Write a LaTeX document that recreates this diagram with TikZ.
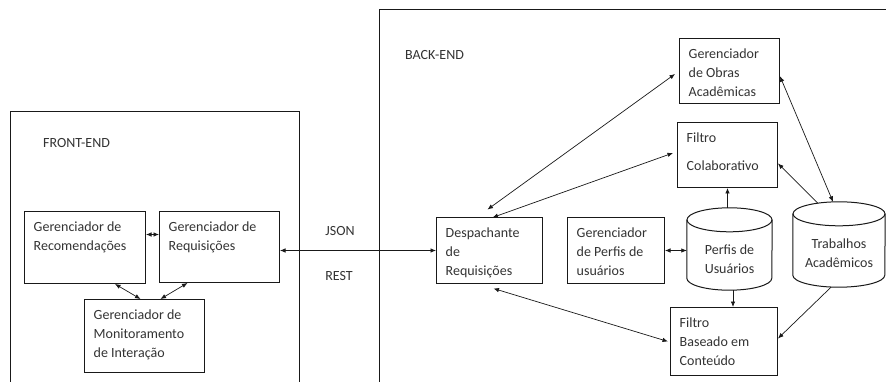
\documentclass[tikz,border=0pt]{standalone}
\usepackage{fontspec}
\setmainfont{Carlito}
\usetikzlibrary{arrows.meta}
\definecolor{ink}{HTML}{333333}
\begin{document}
\begin{tikzpicture}[x=1pt,y=-1pt,
  font=\fontsize{14}{19}\selectfont,
  >={Latex[length=5.5pt,width=4.5pt]},
  box/.style={draw=black!90, line width=1pt, anchor=north west, inner sep=0pt},
  frm/.style={draw=black!90, line width=0.8pt, anchor=north west, inner sep=0pt},
  txt/.style={text=ink, align=left, inner sep=0pt, anchor=north west, xshift=9.5pt, yshift=-10.5pt},
  lbl/.style={text=ink, inner sep=0pt},
  arr/.style={->, line width=0.7pt, draw=black!90},
  darr/.style={<->, line width=0.7pt, draw=black!90},
  cyl/.style={draw=black!90, line width=1pt}
]
\useasboundingbox (0,0) rectangle (886,382);
\fill[white] (0,0) rectangle (886,382);
\clip (0,0) rectangle (886,382);

% frames
\node[frm, minimum width=289.5pt, minimum height=330pt,
  label={[lbl, anchor=west, xshift=33.5pt, yshift=-32pt]north west:FRONT-END}] (fe) at (9.5,111) {};
\node[frm, minimum width=600pt, minimum height=420pt,
  label={[lbl, anchor=west, xshift=26pt, yshift=-46pt]north west:BACK-END}] (be) at (379,9) {};

% front-end boxes
\node[box, minimum width=121pt, minimum height=72pt,
  label={[txt]north west:Gerenciador de\\Recomendações}] (rec) at (24,211) {};
\node[box, minimum width=120pt, minimum height=71pt,
  label={[txt]north west:Gerenciador de\\Requisições}] (req) at (159,211) {};
\node[box, minimum width=120pt, minimum height=73pt,
  label={[txt]north west:Gerenciador de\\Monitoramento\\de Interação}] (mon) at (84,299) {};

% back-end boxes
\node[box, minimum width=106pt, minimum height=65pt,
  label={[txt]north west:Despachante\\de\\Requisições}] (desp) at (436,217.5) {};
\node[box, minimum width=97pt, minimum height=65pt,
  label={[txt]north west:Gerenciador\\de Perfis de\\usuários}] (gp) at (567,217.5) {};
\node[box, minimum width=100pt, minimum height=64.5pt,
  label={[txt]north west:Gerenciador\\de Obras\\Acadêmicas}] (obras) at (679,38.5) {};
\node[box, minimum width=100pt, minimum height=65pt,
  label={[txt]north west:Filtro\\[9pt]Colaborativo}] (colab) at (677,122) {};
\node[box, minimum width=107pt, minimum height=68pt,
  label={[txt]north west:Filtro\\Baseado em\\Conteúdo}] (fb) at (670,307) {};

% cylinders
\node[inner sep=0pt, minimum width=85pt, minimum height=82pt,
  label={[lbl, align=center, anchor=center, yshift=31.5pt]south:Perfis de\\Usuários}] (perf) at (729.5,249) {};
\draw[cyl] ([yshift=-12pt]perf.north west) -- ([yshift=12pt]perf.south west)
  arc[start angle=180, end angle=360, x radius=42.5pt, y radius=12pt]
  -- ([yshift=-12pt]perf.north east);
\draw[cyl] ([yshift=-12pt]perf.north) ellipse [x radius=42.5pt, y radius=12pt];

\node[inner sep=0pt, minimum width=92pt, minimum height=85pt,
  label={[lbl, align=center, anchor=center, yshift=34.5pt]south:Trabalhos\\Acadêmicos}] (trab) at (839,244.5) {};
\draw[cyl] ([yshift=-12pt]trab.north west) -- ([yshift=12pt]trab.south west)
  arc[start angle=180, end angle=360, x radius=46pt, y radius=12pt]
  -- ([yshift=-12pt]trab.north east);
\draw[cyl] ([yshift=-12pt]trab.north) ellipse [x radius=46pt, y radius=12pt];

% protocol labels
\node[lbl] (json) at (340,231) {JSON};
\node[lbl] (rest) at (339,276) {REST};

% front-end connectors
\coordinate (a1) at ([yshift=13pt]rec.east);
\draw[darr] (a1) -- (a1 -| req.west);
\draw[darr] ([xshift=30pt]rec.south) -- ([xshift=-4pt]mon.north);
\draw[darr] ([xshift=-32pt]req.south) -- ([xshift=16pt]mon.north);
\draw[darr] (desp.west -| req.east) -- (desp.west);

% back-end connectors
\draw[darr] ([xshift=-2pt,yshift=8pt]desp.north) -- ([xshift=-4pt,yshift=-2.75pt]obras.west);
\draw[darr] ([xshift=3pt]desp.north) -- ([xshift=-4pt,yshift=2pt]colab.west);
\draw[darr] ([xshift=4pt,yshift=-5pt]desp.south) -- ([xshift=-2pt]fb.west);
\draw[darr] (gp.east) -- (gp.east -| perf.west);
\draw[arr] (colab.south |- perf.north) -- (colab.south);
\coordinate (p1) at ([xshift=3.5pt]perf.south);
\draw[arr] (p1) -- (p1 |- fb.north);
\draw[arr] ([xshift=-21pt,yshift=-1.5pt]trab.north) -- ([yshift=-8.5pt]colab.east);
\draw[darr] ([yshift=-5pt]obras.east) -- ([xshift=-6pt]trab.north);
\draw[arr] ([xshift=-8pt]trab.south) -- ([yshift=3pt]fb.east);
\end{tikzpicture}
\end{document}
